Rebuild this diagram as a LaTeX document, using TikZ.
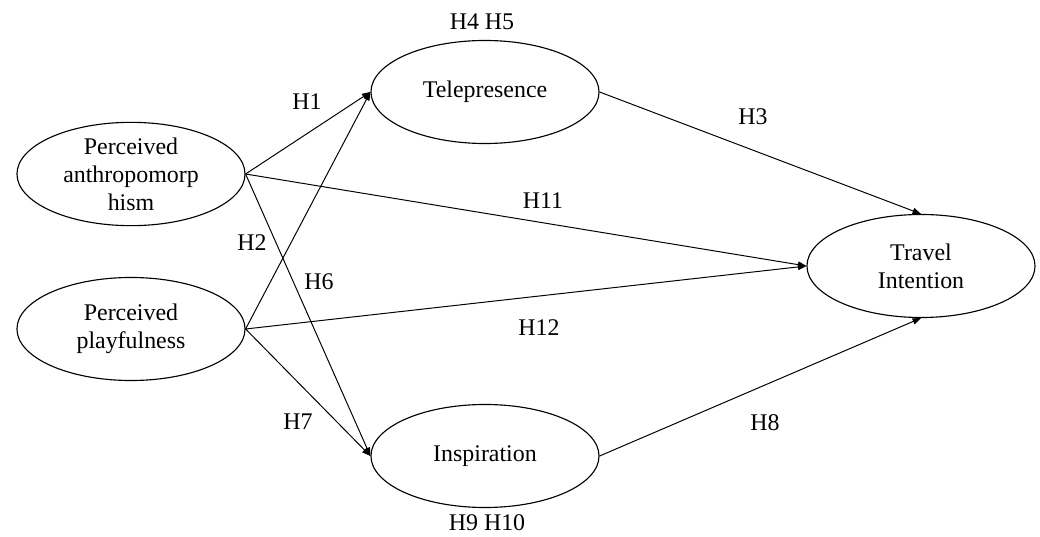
\documentclass[tikz,border=0pt]{standalone}
\usepackage{fontspec}
\setmainfont{Liberation Serif}
\usetikzlibrary{arrows.meta,shapes.geometric}
\begin{document}
\begin{tikzpicture}[
        x=0.025cm, y=-0.025cm,
        font=\fontsize{17}{20}\selectfont,
        >={Triangle[length=6pt,width=4.5pt]}
    ]

    \tikzstyle{construct} = [
        draw,
        ellipse,
        line width=0.8pt,
        inner sep=0pt,
        minimum width=5.7cm,
        minimum height=2.575cm,
        align=center
    ]
    \tikzstyle{link} = [
        ->,
        line width=0.7pt
    ]
    \tikzstyle{hyp} = [
        inner sep=0pt
    ]

    \useasboundingbox (0,0) rectangle (1040,537);

    % constructs
    \node [construct] (anthro)  at (131,174) {Perceived\\anthropomorp\\hism};
    \node [construct] (playful) at (131,329) {Perceived\\playfulness};
    \node [construct] (tele)    at (485,92)  {Telepresence};
    \node [construct] (inspire) at (485,456) {Inspiration};
    \node [construct] (travel)  at (921,266) {Travel\\Intention};

    % paths
    \draw [link] (anthro.east)  -- (tele.west);
    \draw [link] (playful.east) -- (tele.west);
    \draw [link] (anthro.east)  -- (inspire.west);
    \draw [link] (playful.east) -- (inspire.west);
    \draw [link] (anthro.east)  -- (travel.west);
    \draw [link] (playful.east) -- (travel.west);
    \draw [link] (tele.east)    -- (travel.north);
    \draw [link] (inspire.east) -- (travel.south);

    % hypotheses
    \node [hyp] (h1)  at (307,102) {H1};
    \node [hyp] (h2)  at (252,243) {H2};
    \node [hyp] (h6)  at (319,282) {H6};
    \node [hyp] (h7)  at (298,422) {H7};
    \node [hyp] (h11) at (543,201) {H11};
    \node [hyp] (h12) at (539,328) {H12};
    \node [hyp] (h3)  at (753,117) {H3};
    \node [hyp] (h8)  at (765,423) {H8};
    \node [hyp] (h45) at (482,22)  {H4 H5};
    \node [hyp] (h910) at (487,523) {H9 H10};
\end{tikzpicture}
\end{document}
